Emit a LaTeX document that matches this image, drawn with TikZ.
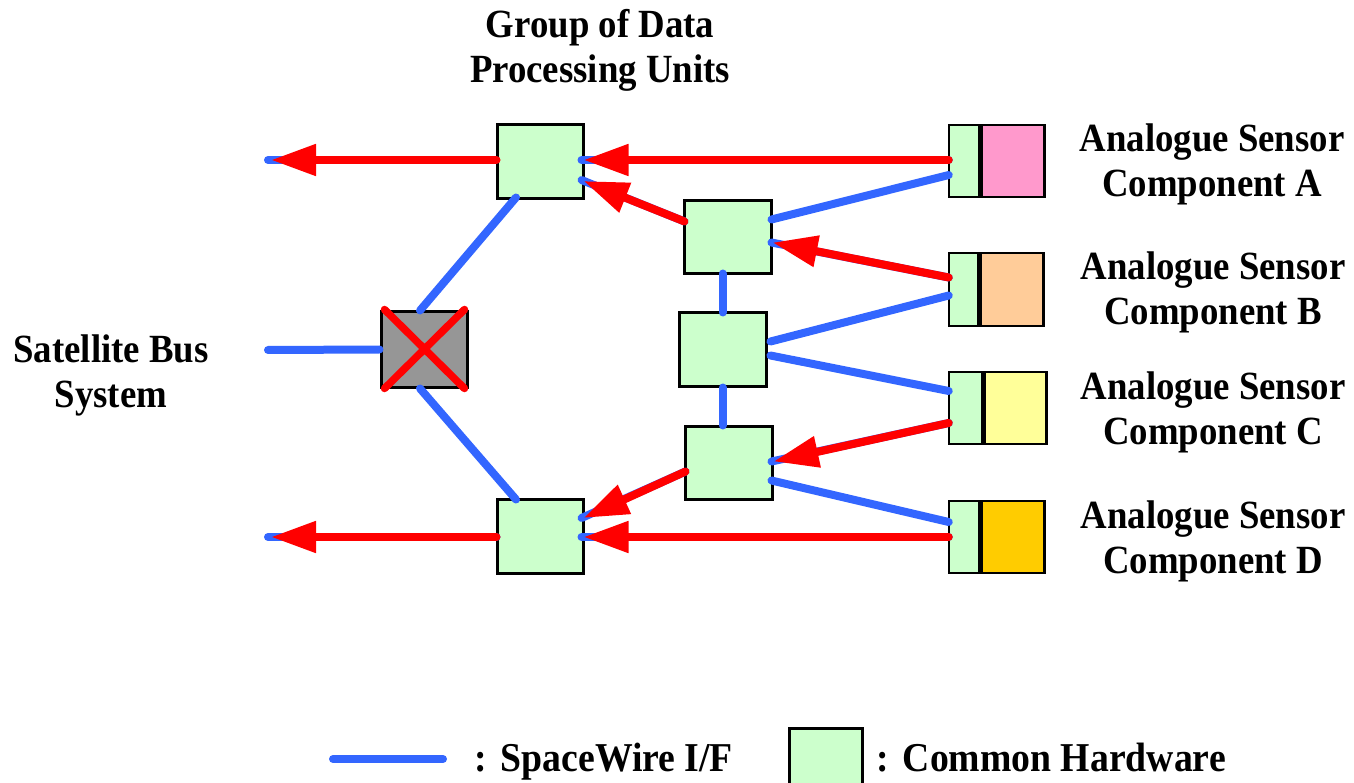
\documentclass[tikz,border=0pt]{standalone}
\usepackage{fontspec}
\setmainfont{Liberation Serif}[FakeStretch=0.92]
\usetikzlibrary{arrows.meta,calc}
\definecolor{hwgreen}{HTML}{CCFFCC}
\definecolor{swgray}{HTML}{969696}
\definecolor{sensA}{HTML}{FF99CC}
\definecolor{sensB}{HTML}{FFCC99}
\definecolor{sensC}{HTML}{FFFF99}
\definecolor{sensD}{HTML}{FFCC00}
\definecolor{spw}{HTML}{3366FF}
\definecolor{flow}{HTML}{FF0000}
\tikzset{
  unitbox/.style={draw=black, line width=3pt, fill=hwgreen, inner sep=0pt,
    minimum width=#1, minimum height=73pt},
  unitbox/.default=86pt,
  sensorpart/.style={draw=black, line width=2.5pt, inner sep=0pt, minimum height=72pt},
  spwline/.style={draw=spw, line width=8pt, line cap=round},
  flowarrow/.style={draw=flow, line width=8pt, line cap=round,
    -{Triangle[length=45pt,width=30pt]}},
  crossline/.style={draw=flow, line width=7.5pt, line cap=round},
  label/.style={font=\bfseries\fontsize{40}{45}\selectfont, align=center, inner sep=0pt}
}
\begin{document}
\begin{tikzpicture}[x=1pt,y=-1pt]
\useasboundingbox (0,0) rectangle (1354,783);

% data processing units
\node[unitbox, minimum height=74pt] (dpuA) at (540,162) {};
\node[unitbox, minimum height=74pt] (dpuB) at (540,536) {};
% routers
\node[unitbox=87pt] (rtU) at (727.5,237.5) {};
\node[unitbox=87pt] (rtM) at (722.5,349.5) {};
\node[unitbox=87pt] (rtL) at (728.5,462.5) {};
% bus switch (failed)
\node[unitbox, fill=swgray, minimum height=75pt] (sw) at (424,349.5) {};
\draw[crossline] ($(sw.north west)+(5,-1)$) -- ($(sw.south east)+(-4,0)$);
\draw[crossline] ($(sw.north east)+(-4,-1)$) -- ($(sw.south west)+(5,0)$);

% analogue sensor components
\node[sensorpart, fill=hwgreen, minimum width=30pt] (sAi) at (964,161) {};
\node[sensorpart, fill=sensA, minimum width=63pt, anchor=west] (sA) at (sAi.east) {};
\node[sensorpart, fill=hwgreen, minimum width=29pt, minimum height=73pt] (sBi) at (963.5,289.5) {};
\node[sensorpart, fill=sensB, minimum width=63pt, minimum height=73pt, anchor=west] (sB) at (sBi.east) {};
\node[sensorpart, fill=hwgreen, minimum width=33pt] (sCi) at (965.5,408) {};
\node[sensorpart, fill=sensC, minimum width=62pt, anchor=west] (sC) at (sCi.east) {};
\node[sensorpart, fill=hwgreen, minimum width=30pt] (sDi) at (964,537) {};
\node[sensorpart, fill=sensD, minimum width=63pt, anchor=west] (sD) at (sDi.east) {};

% free ends towards the satellite bus
\coordinate (outA) at (268,160);
\coordinate (outB) at (268,537);
\coordinate (busin) at (268,350);

% SpaceWire links
\draw[spwline] (busin) -- (sw.west);
\draw[spwline] ($(sw.north)+(-4,0)$) -- ($(dpuA.south)+(-24,-3)$);
\draw[spwline] ($(sw.south)+(-4,0)$) -- ($(dpuB.north)+(-24,2)$);
\draw[spwline] ($(rtU.south)+(-5,-2)$) -- ($(rtM.north)+(0,1)$);
\draw[spwline] ($(rtM.south)+(0,0)$) -- ($(rtL.north)+(-6,1)$);
\draw[spwline] ($(rtU.east)+(-1,-18)$) -- ($(sAi.west)+(1,14)$);
\draw[spwline] ($(rtM.east)+(3,-8)$) -- ($(sBi.west)+(1,6)$);
\draw[spwline] ($(rtM.east)+(3,6)$) -- ($(sCi.west)+(1,-17)$);
\draw[spwline] ($(rtL.east)+(-2,18)$) -- ($(sDi.west)+(1,-15)$);
% SpaceWire links carrying sensor data
\draw[spwline] ($(dpuA.west)+(0,-2)$) -- (outA);
\draw[spwline] ($(sAi.west)+(1,-1)$) -- ($(dpuA.east)+(-3,-2)$);
\draw[spwline] ($(rtU.west)+(2,-16)$) -- ($(dpuA.east)+(-3,18)$);
\draw[spwline] ($(sBi.west)+(1,-12)$) -- ($(rtU.east)+(-1,5)$);
\draw[spwline] ($(sCi.west)+(1,15)$) -- ($(rtL.east)+(-2,-1)$);
\draw[spwline] ($(rtL.west)+(2,9)$) -- ($(dpuB.east)+(-3,-18)$);
\draw[spwline] ($(sDi.west)+(1,0)$) -- ($(dpuB.east)+(-3,1)$);
\draw[spwline] ($(dpuB.west)+(1,1)$) -- (outB);

% data flow
\draw[flowarrow] ($(dpuA.west)+(1,-2)$) -- ($(outA)+(3,0)$);
\draw[flowarrow] ($(sAi.west)+(1,-1)$) -- ($(dpuA.east)+(-1,-2)$);
\draw[flowarrow] ($(rtU.west)+(2,-16)$) -- ($(dpuA.east)+(-1,19)$);
\draw[flowarrow] ($(sBi.west)+(1,-12)$) -- ($(rtU.east)+(0,5)$);
\draw[flowarrow] ($(sCi.west)+(1,15)$) -- ($(rtL.east)+(0,-1)$);
\draw[flowarrow] ($(rtL.west)+(2,9)$) -- ($(dpuB.east)+(-1,-18)$);
\draw[flowarrow] ($(sDi.west)+(1,0)$) -- ($(dpuB.east)+(-1,1)$);
\draw[flowarrow] ($(dpuB.west)+(1,1)$) -- ($(outB)+(3,0)$);

% labels
\node[label] (tdpu) at (600,50) {Group of Data\\Processing Units};
\node[label] (tbus) at (111,375) {Satellite Bus\\System};
\node[label] (tA) at (1212,164) {Analogue Sensor\\Component A};
\node[label] (tB) at (1213,292) {Analogue Sensor\\Component B};
\node[label] (tC) at (1213,412) {Analogue Sensor\\Component C};
\node[label] (tD) at (1213,541) {Analogue Sensor\\Component D};

% legend
\coordinate (lgA) at (333,759);
\coordinate (lgB) at (443,759);
\draw[spwline] (lgA) -- (lgB);
\node[label, font=\bfseries\fontsize{41}{45}\selectfont, anchor=base west] (lgspw) at (474,771) {:\hspace{14pt}SpaceWire I/F};
\node[draw=black, line width=2.5pt, fill=hwgreen, inner sep=0pt,
  minimum width=73pt, minimum height=66pt, anchor=north west] (lgbox) at (788,727) {};
\node[label, font=\bfseries\fontsize{41}{45}\selectfont, anchor=base west] (lghw) at (876,771) {:\hspace{14pt}Common Hardware};
\end{tikzpicture}
\end{document}
